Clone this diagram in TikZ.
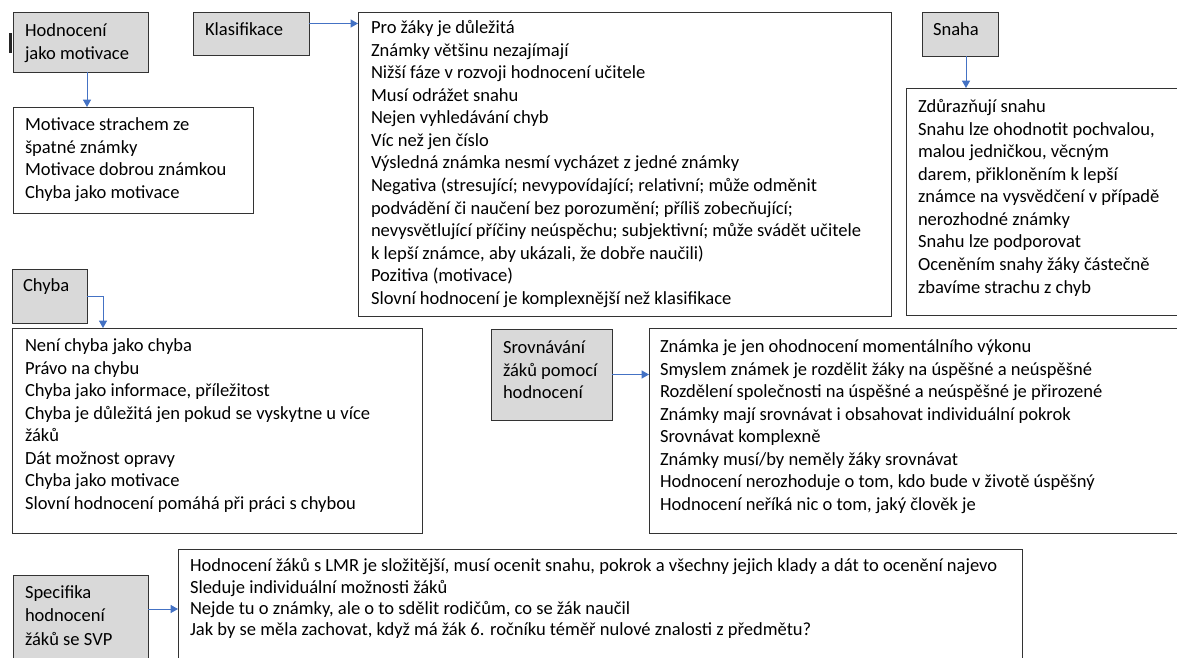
\documentclass[tikz,border=0pt]{standalone}
\usepackage{fontspec}
\setmainfont{Carlito}
\usetikzlibrary{arrows.meta,calc}
\definecolor{topicgrey}{HTML}{D9D9D9}
\definecolor{linkblue}{HTML}{4472C4}
\newcommand{\pxu}{0.75pt}
\begin{document}
\begin{tikzpicture}[x=0.75pt,y=-0.75pt]
	\tikzstyle{every node} = [inner sep=0pt, outer sep=0pt]
	\tikzstyle{topic} = [draw=black!80, line width=0.75pt, fill=topicgrey, anchor=north west]
	\tikzstyle{info} = [draw=black!80, line width=0.75pt, fill=white, anchor=north west]
	\tikzstyle{lines} = [anchor=north west, align=left, font=\fontsize{13.9}{16.9}\selectfont]
	\tikzstyle{link} = [draw=linkblue, line width=0.75pt, -{Triangle[length=5.5pt,width=6pt]}]
	
	\useasboundingbox (0,0) rectangle (1177,657);
	\clip (0,0) rectangle (1177,657);
	
	\node[topic, minimum width=135*\pxu, minimum height=60*\pxu] (hodbox) at (13,12) {};
	\node[topic, minimum width=116*\pxu, minimum height=43*\pxu] (klasbox) at (193,12) {};
	\node[info, minimum width=533*\pxu, minimum height=304*\pxu] (klasinfo) at (358,12) {};
	\node[topic, minimum width=76*\pxu, minimum height=44*\pxu] (snahabox) at (922,12) {};
	\node[info, minimum width=300*\pxu, minimum height=227*\pxu] (snahainfo) at (906,88) {};
	\node[info, minimum width=240*\pxu, minimum height=106*\pxu] (motivinfo) at (13,107) {};
	\node[topic, minimum width=75*\pxu, minimum height=54*\pxu] (chybabox) at (12,269) {};
	\node[info, minimum width=410*\pxu, minimum height=205*\pxu] (chybainfo) at (12,328) {};
	\node[topic, minimum width=121*\pxu, minimum height=91*\pxu] (srovbox) at (491,329) {};
	\node[info, minimum width=560*\pxu, minimum height=205*\pxu] (srovinfo) at (649,328) {};
	\node[topic, minimum width=135*\pxu, minimum height=110*\pxu] (specbox) at (13,575) {};
	\node[info, minimum width=844*\pxu, minimum height=140*\pxu] (specinfo) at (178,549) {};
	
	\draw[line width=1.9pt, black!85] (10.5,33) -- (10.5,53);
	
	\node[lines] (hodtext) at ($(hodbox.north west)+(12,9)$) {\strut Hodnocení\\jako motivace};
	\node[lines] (klastext) at ($(klasbox.north west)+(12,8)$) {\strut Klasifikace};
	\node[lines] (klasitems) at ($(klasinfo.north west)+(13,6)$) {\strut Pro žáky je důležitá\\
		Známky většinu nezajímají\\
		Nižší fáze v rozvoji hodnocení učitele\\
		Musí odrážet snahu\\
		Nejen vyhledávání chyb\\
		Víc než jen číslo\\
		Výsledná známka nesmí vycházet z jedné známky\\
		Negativa (stresující; nevypovídající; relativní; může odměnit\\
		podvádění či naučení bez porozumění; příliš zobecňující;\\
		nevysvětlující příčiny neúspěchu; subjektivní; může svádět učitele\\
		k lepší známce, aby ukázali, že dobře naučili)\\
		Pozitiva (motivace)\\
		Slovní hodnocení je komplexnější než klasifikace};
	\node[lines] (snahatext) at ($(snahabox.north west)+(11,8)$) {\strut Snaha};
	\node[lines] (snahaitems) at ($(snahainfo.north west)+(12,9)$) {\strut Zdůrazňují snahu\\
		Snahu lze ohodnotit pochvalou,\\
		malou jedničkou, věcným\\
		darem, přikloněním k lepší\\
		známce na vysvědčení v případě\\
		nerozhodné známky\\
		Snahu lze podporovat\\
		Oceněním snahy žáky částečně\\
		zbavíme strachu z chyb};
	\node[lines] (motivitems) at ($(motivinfo.north west)+(12,8)$) {\strut Motivace strachem ze\\
		špatné známky\\
		Motivace dobrou známkou\\
		Chyba jako motivace};
	\node[lines] (chybatext) at ($(chybabox.north west)+(11,7)$) {\strut Chyba};
	\node[lines] (chybaitems) at ($(chybainfo.north west)+(13,8)$) {\strut Není chyba jako chyba\\
		Právo na chybu\\
		Chyba jako informace, příležitost\\
		Chyba je důležitá jen pokud se vyskytne u více\\
		žáků\\
		Dát možnost opravy\\
		Chyba jako motivace\\
		Slovní hodnocení pomáhá při práci s chybou};
	\node[lines] (srovtext) at ($(srovbox.north west)+(12,9)$) {\strut Srovnávání\\žáků pomocí\\hodnocení};
	\node[lines] (srovitems) at ($(srovinfo.north west)+(11,9)$) {\strut Známka je jen ohodnocení momentálního výkonu\\
		Smyslem známek je rozdělit žáky na úspěšné a neúspěšné\\
		Rozdělení společnosti na úspěšné a neúspěšné je přirozené\\
		Známky mají srovnávat i obsahovat individuální pokrok\\
		Srovnávat komplexně\\
		Známky musí/by neměly žáky srovnávat\\
		Hodnocení nerozhoduje o tom, kdo bude v životě úspěšný\\
		Hodnocení neříká nic o tom, jaký člověk je};
	\node[lines, font=\fontsize{13.9}{17.6}\selectfont] (spectext) at ($(specbox.north west)+(12,7)$) {\strut Specifika\\hodnocení\\žáků se SVP};
	\node[lines, font=\fontsize{13.9}{16}\selectfont] (specitems) at ($(specinfo.north west)+(12,8)$) {\strut Hodnocení žáků s LMR je složitější, musí ocenit snahu, pokrok a všechny jejich klady a dát to ocenění najevo\\
		Sleduje individuální možnosti žáků\\
		Nejde tu o známky, ale o to sdělit rodičům, co se žák naučil\\
		Jak by se měla zachovat, když má žák 6. ročníku téměř nulové znalosti z předmětu?};
	
	\coordinate (hodout) at ([xshift=6.5*\pxu]hodbox.south);
	\coordinate (klasout) at ([yshift=10*\pxu]klasbox.east);
	\coordinate (snahaout) at ([xshift=6*\pxu]snahabox.south);
	\coordinate (chybadrop) at ([xshift=91*\pxu]chybainfo.north west);
	\coordinate (specout) at ([yshift=-34*\pxu]specbox.north east);
	
	\draw[link] (hodout) -- (hodout |- motivinfo.north);
	\draw[link] (klasout) -- (klasout -| klasinfo.west);
	\draw[link] (snahaout) -- (snahaout |- snahainfo.north);
	\draw[link] (chybabox.east) -| (chybadrop);
	\draw[link] (srovbox.east) -- (srovbox.east -| srovinfo.west);
	\draw[link] (specout) -- (specout -| specinfo.west);
\end{tikzpicture}
\end{document}
